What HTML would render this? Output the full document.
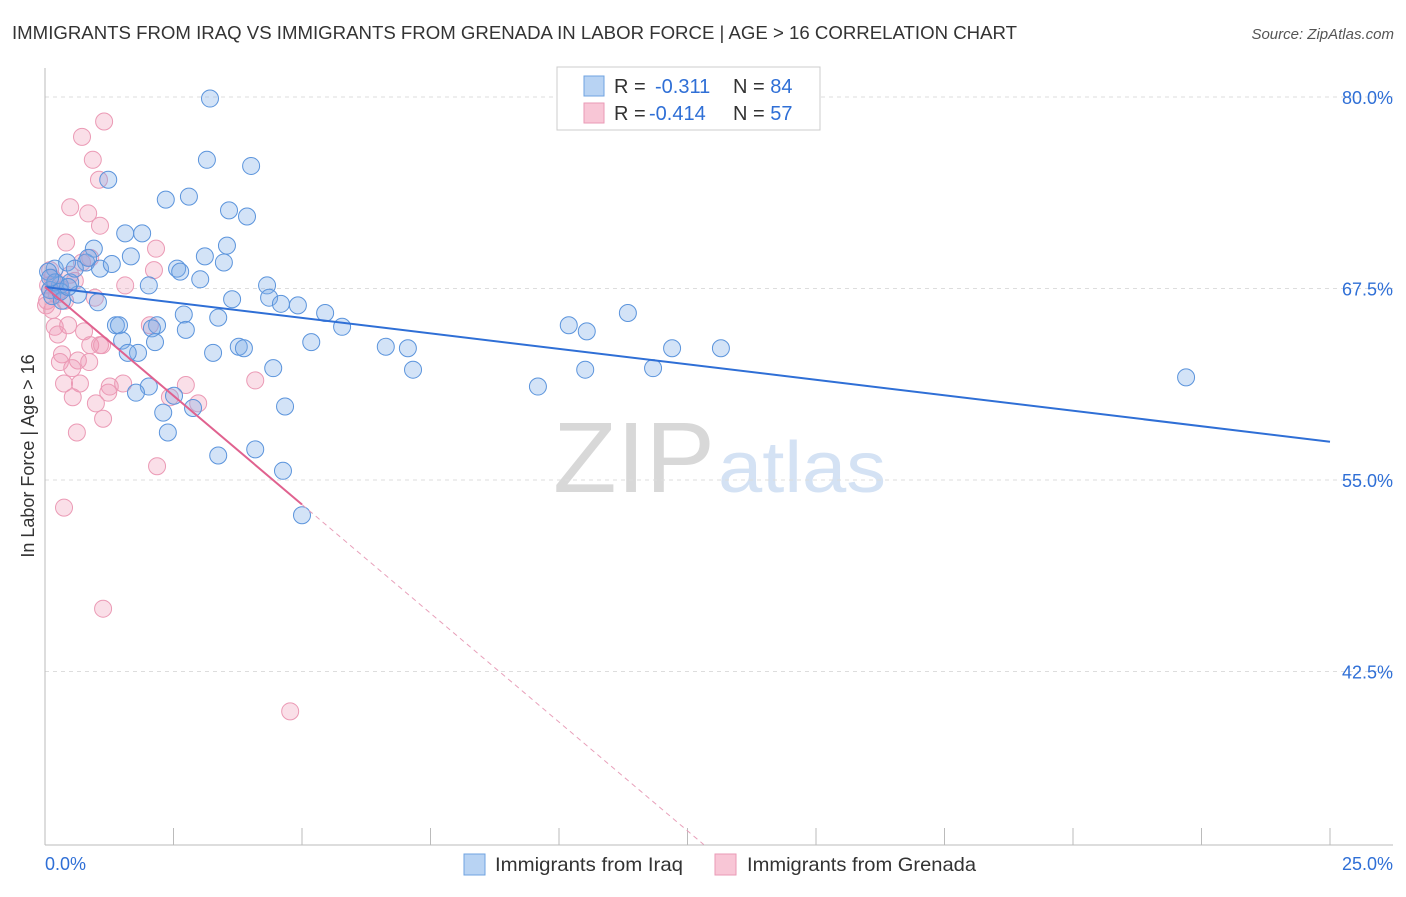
<!DOCTYPE html>
<html><head><meta charset="utf-8"><style>
body{margin:0;background:#fff;font-family:"Liberation Sans",sans-serif}
svg text{font-family:"Liberation Sans",sans-serif}
</style></head><body>
<svg id="chart" width="1406" height="892" xmlns="http://www.w3.org/2000/svg">
<text x="12" y="39" font-size="18" fill="#333" textLength="1005" lengthAdjust="spacingAndGlyphs">IMMIGRANTS FROM IRAQ VS IMMIGRANTS FROM GRENADA IN LABOR FORCE | AGE &gt; 16 CORRELATION CHART</text>
<text x="1394" y="39" font-size="15" fill="#555" text-anchor="end" font-style="italic">Source: ZipAtlas.com</text>
<text x="553" y="492" font-size="100" fill="#d8d8d8" font-family="Liberation Serif,serif" textLength="162" lengthAdjust="spacingAndGlyphs">ZIP</text>
<text x="718" y="492" font-size="72" fill="#d4e2f4" textLength="168" lengthAdjust="spacingAndGlyphs">atlas</text>
<text transform="translate(34,456) rotate(-90)" font-size="18" fill="#333" text-anchor="middle">In Labor Force | Age &gt; 16</text>
<g id="grid"></g><g id="axes"></g><g id="marks"></g>
<g>
<rect x="557" y="67" width="263" height="63" fill="#fff" stroke="#ccc"/>
<rect x="584" y="76" width="20" height="20" fill="#b8d3f3" stroke="#6fa3e0"/>
<rect x="584" y="103" width="20" height="20" fill="#f8c6d6" stroke="#ea9ab6"/>
<text x="614" y="93" font-size="20" fill="#333">R = </text>
<text x="655" y="93" font-size="20" fill="#2f6fd6">-0.311</text>
<text x="733" y="93" font-size="20" fill="#333">N = <tspan fill="#2f6fd6">84</tspan></text>
<text x="614" y="120" font-size="20" fill="#333">R = </text>
<text x="649" y="120" font-size="20" fill="#2f6fd6">-0.414</text>
<text x="733" y="120" font-size="20" fill="#333">N = <tspan fill="#2f6fd6">57</tspan></text>
</g>
<g>
<rect x="464" y="854" width="21" height="21" fill="#b8d3f3" stroke="#6fa3e0"/>
<text x="495" y="871" font-size="19.5" fill="#333" textLength="188" lengthAdjust="spacingAndGlyphs">Immigrants from Iraq</text>
<rect x="715" y="854" width="21" height="21" fill="#f8c6d6" stroke="#ea9ab6"/>
<text x="747" y="871" font-size="19.5" fill="#333" textLength="229" lengthAdjust="spacingAndGlyphs">Immigrants from Grenada</text>
</g>
</svg>
<script>
const yTicks=[80,67.5,55,42.5];
const yTickLabels=["80.0%","67.5%","55.0%","42.5%"];
const xTickLabels=["0.0%","25.0%"];
const iraqX=[3.21,3.15,4.01,1.23,2.35,2.80,3.58,3.93,1.56,1.89,0.95,1.67,3.11,3.54,0.19,0.43,0.80,1.07,1.30,0.84,2.57,2.63,3.02,3.48,4.32,4.36,4.59,4.92,2.02,3.64,1.03,0.64,0.29,0.10,0.49,5.45,2.70,5.78,3.37,1.38,1.44,2.18,2.08,2.74,5.18,2.14,1.50,3.77,3.87,3.27,1.81,1.61,6.63,7.06,4.44,7.16,2.02,1.77,2.51,2.88,2.30,4.67,2.39,3.37,4.09,4.63,5.00,10.19,10.54,11.34,12.20,13.15,11.83,10.51,9.59,22.20,0.06,0.14,0.33,0.58,0.2,0.1,0.3,0.45];
const iraqY=[79.9,75.9,75.5,74.6,73.3,73.5,72.6,72.2,71.1,71.1,70.1,69.6,69.6,70.3,68.8,69.2,69.2,68.8,69.1,69.5,68.8,68.6,68.1,69.2,67.7,66.9,66.5,66.4,67.7,66.8,66.6,67.1,67.7,67.4,67.9,65.9,65.8,65.0,65.6,65.1,65.1,65.1,64.9,64.8,64.0,64.0,64.1,63.7,63.6,63.3,63.3,63.3,63.7,63.6,62.3,62.2,61.1,60.7,60.5,59.7,59.4,59.8,58.1,56.6,57.0,55.6,52.7,65.1,64.7,65.9,63.6,63.6,62.3,62.2,61.1,61.7,68.6,67.0,66.7,68.8,67.9,68.2,67.3,67.6];
const grenadaX=[1.15,0.72,0.93,1.05,0.49,0.84,1.07,0.41,2.16,0.88,2.12,1.56,0.10,0.14,0.10,0.04,0.23,0.14,0.97,0.19,0.45,0.25,0.76,0.88,1.07,2.04,0.33,0.29,0.64,0.86,0.53,1.11,0.37,0.68,1.52,1.26,1.23,2.74,2.43,2.98,0.54,0.99,1.13,0.62,2.18,0.37,1.13,4.77,4.09,0.72,0.58,0.06,0.19,0.29,0.49,0.39,0.02];
const grenadaY=[78.4,77.4,75.9,74.6,72.8,72.4,71.6,70.5,70.1,69.5,68.7,67.7,68.7,68.2,67.4,66.7,67.1,66.1,66.9,65.0,65.1,64.5,64.7,63.8,63.8,65.1,63.2,62.7,62.8,62.7,62.3,63.8,61.3,61.3,61.3,61.1,60.7,61.2,60.4,60.0,60.4,60.0,59.0,58.1,55.9,53.2,46.6,39.9,61.5,69.2,68.0,67.7,67.9,67.4,68.4,66.7,66.4];
const iraqTrend=[67.6,-0.404];
const grenadaTrend=[67.6,-2.84];
const xMin=0,xMax=25,yTop=80;
const X=v=>45+(v-xMin)/(xMax-xMin)*1285;
const Y=v=>97+(yTop-v)*15.32;
const NS="http://www.w3.org/2000/svg";
function mk(tag,attrs,parent){const e=document.createElementNS(NS,tag);for(const k in attrs)e.setAttribute(k,attrs[k]);parent.appendChild(e);return e;}
const grid=document.getElementById('grid'),axes=document.getElementById('axes'),marks=document.getElementById('marks');
yTicks.forEach((t,i)=>{
 const l=mk('line',{x1:45,x2:1393,y1:Y(t),y2:Y(t),stroke:'#ddd','stroke-dasharray':'4,4'},grid);
 
 
 const tx=mk('text',{x:1393,y:Y(t)+7,'font-size':18,fill:'#2f6fd6','text-anchor':'end'},axes);
 tx.textContent=yTickLabels[i];
 
 
});
const la=mk('line',{x1:45,x2:45,y1:68,y2:845,stroke:'#bbb'},axes);


const lb=mk('line',{x1:45,x2:1393,y1:845,y2:845,stroke:'#bbb'},axes);


for(let v=0;v<=25.001;v+=2.5){
 const t=mk('line',{x1:X(v),x2:X(v),y1:828,y2:845,stroke:'#bbb'},axes);
 
 
}
[[0,'start',45],[25,'end',1393]].forEach((a,i)=>{
 const tx=mk('text',{x:a[2],y:870,'font-size':18,fill:'#2f6fd6','text-anchor':a[1]},axes);
 tx.textContent=xTickLabels[i];
 
 
});
grenadaX.forEach((x,i)=>{
 const c=mk('circle',{cx:X(x),cy:Y(grenadaY[i]),r:8.5,fill:'rgba(240,150,180,0.3)',stroke:'#eb9ab5','stroke-width':1},marks);
 
 
});
iraqX.forEach((x,i)=>{
 const c=mk('circle',{cx:X(x),cy:Y(iraqY[i]),r:8.5,fill:'rgba(120,170,230,0.33)',stroke:'#5b94dc','stroke-width':1},marks);
 
 
});
const bl=mk('line',{x1:X(0),y1:Y(iraqTrend[0]),x2:X(25),y2:Y(iraqTrend[0]+iraqTrend[1]*25),stroke:'#2f6fd6','stroke-width':2},marks);


const pl=mk('line',{x1:X(0),y1:Y(grenadaTrend[0]),x2:X(5),y2:Y(grenadaTrend[0]+grenadaTrend[1]*5),stroke:'#e0628f','stroke-width':2},marks);


const xEnd=(31.2-grenadaTrend[0])/grenadaTrend[1];
const pd=mk('line',{x1:X(5),y1:Y(grenadaTrend[0]+grenadaTrend[1]*5),x2:X(xEnd),y2:Y(31.2),stroke:'#e8a0ba','stroke-width':1,'stroke-dasharray':'5,4'},marks);


</script>
</body></html>
